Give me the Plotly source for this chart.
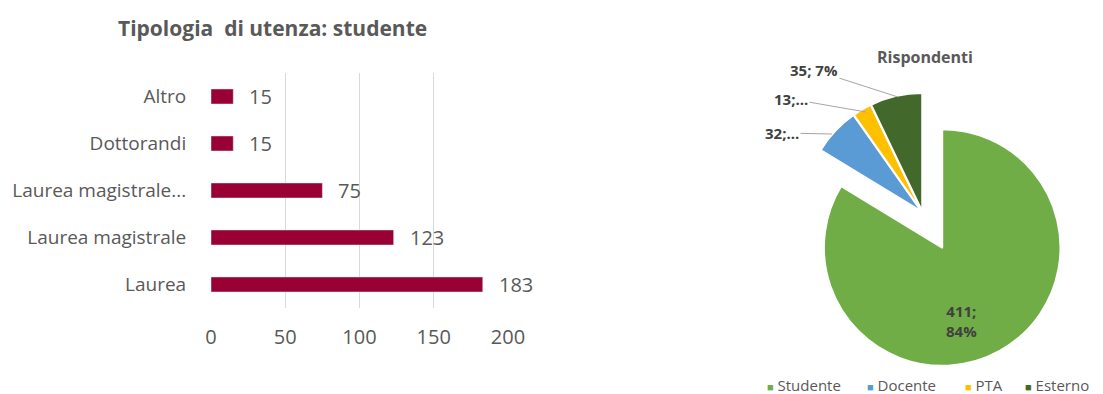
import plotly.graph_objects as go

# ---- data ----
bar_categories = ["Laurea", "Laurea magistrale", "Laurea magistrale...", "Dottorandi", "Altro"]
bar_values = [183, 123, 75, 15, 15]
bar_title = "Tipologia  di utenza: studente"
x_ticks = [0, 50, 100, 150, 200]

pie_labels = ["Studente", "Docente", "PTA", "Esterno"]
pie_values = [411, 32, 13, 35]
pie_text = ["411;<br>84%", "32;...", "13;...", "35; 7%"]
pie_title = "Rispondenti"

W, H = 1103, 394
FONT = "Open Sans"
GREY = "#595959"
DARK = "#404040"

fig = go.Figure()

fig.add_trace(go.Bar(
    y=bar_categories, x=bar_values, orientation="h",
    marker=dict(color="#990033"), width=0.32, showlegend=False,
    hoverinfo="x+y",
))

for c, v in zip(bar_categories, bar_values):
    fig.add_annotation(x=v, y=c, xref="x", yref="y", text=str(v), showarrow=False,
                       xanchor="left", yanchor="middle", xshift=14,
                       font=dict(family=FONT, size=20, color=GREY))

fig.add_annotation(x=272 / W, y=1 - 28 / H, xref="paper", yref="paper", text="<b>" + bar_title + "</b>",
                   showarrow=False, xanchor="center", yanchor="middle",
                   font=dict(family=FONT, size=21, color=GREY))

# ---- pie ----
pulls = [0.34, 0.01, 0.01, 0.01]
colors = ["#70AD47", "#5B9BD5", "#FFC000", "#43682B"]
fig.add_trace(go.Pie(
    labels=pie_labels, values=pie_values, sort=False, direction="clockwise", rotation=0,
    pull=pulls, marker=dict(colors=colors, line=dict(color="white", width=2)),
    textinfo="none", showlegend=False,
    domain=dict(x=[764 / W, 1081 / W], y=[1 - 371 / H, 1 - 54 / H]),
    hoverinfo="label+value+percent",
))

fig.add_annotation(x=925 / W, y=1 - 57 / H, xref="paper", yref="paper", text="<b>" + pie_title + "</b>",
                   showarrow=False, xanchor="center", yanchor="middle",
                   font=dict(family=FONT, size=16, color=GREY))

# inside label of the large slice
fig.add_annotation(x=961 / W, y=1 - 321 / H, xref="paper", yref="paper", text="<b>" + pie_text[0] + "</b>",
                   showarrow=False, xanchor="center", yanchor="middle",
                   font=dict(family=FONT, size=15, color=DARK))

# outside labels with leader lines (label text, head point px, text offset px)
outside = [
    (pie_text[3], (898, 97), (-84, -27)),
    (pie_text[2], (866, 112), (-75, -13)),
    (pie_text[1], (832, 134), (-50, -1)),
]
for t, (hx, hy), (ax, ay) in outside:
    fig.add_annotation(x=hx / W, y=1 - hy / H, xref="paper", yref="paper", text="<b>" + t + "</b>",
                       showarrow=True, arrowhead=0, arrowwidth=1, arrowcolor="#A6A6A6",
                       ax=ax, ay=ay, font=dict(family=FONT, size=15, color=DARK))

# legend (drawn as text entries)
legend_x = [765, 865, 963, 1023]
for lab, col, lx in zip(pie_labels, colors, legend_x):
    fig.add_annotation(x=lx / W, y=1 - 385 / H, xref="paper", yref="paper",
                       text=f'<span style="color:{col};font-size:11px">■</span> {lab}',
                       showarrow=False, xanchor="left", yanchor="middle",
                       font=dict(family=FONT, size=15, color=GREY))

fig.update_layout(
    width=W, height=H, margin=dict(l=0, r=0, t=0, b=0),
    paper_bgcolor="white", plot_bgcolor="white",
    font=dict(family=FONT, color=GREY),
    xaxis=dict(domain=[211 / W, 508 / W], range=[0, 200], tickvals=x_ticks,
               showgrid=True, gridcolor="#D9D9D9", gridwidth=1, zeroline=False,
               showline=False, tickfont=dict(size=20, color=GREY), automargin=False,
               ticks="outside", ticklen=11, tickcolor="rgba(0,0,0,0)"),
    yaxis=dict(domain=[1 - 308 / H, 1 - 73 / H], range=[-0.5, 4.5], showgrid=False,
               zeroline=False, showline=False, tickfont=dict(size=19, color=GREY), automargin=False,
               ticks="outside", ticklen=20, tickcolor="rgba(0,0,0,0)"),
    showlegend=False,
)

fig.write_html("out.html", post_script="document.body.style.margin='0';",
               config={"displayModeBar": False})
